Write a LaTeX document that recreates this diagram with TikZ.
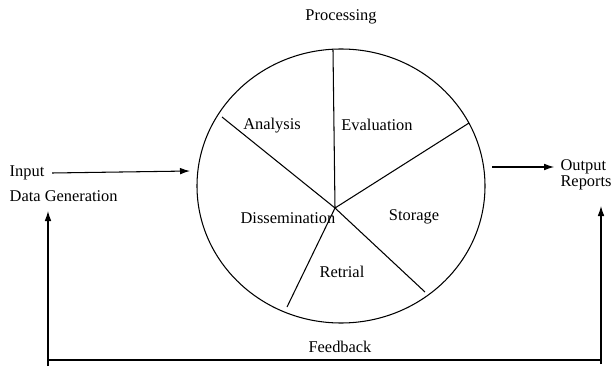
\documentclass[tikz,border=0pt]{standalone}
\usepackage{fontspec}
\setmainfont{Liberation Serif}
\usetikzlibrary{arrows.meta}
\tikzset{
  lbl/.style={font=\fontsize{14}{16}\selectfont, inner sep=1pt},
  arr/.style={line width=0.9pt, -{Latex[length=3mm,width=2mm]}},
}
\begin{document}
\begin{tikzpicture}[x=0.03cm,y=-0.03cm,line width=0.9pt]
        \useasboundingbox (0,0) rectangle (613,367);
        \node[lbl] (proc) at (341,17) {Processing};
        \draw (341,186) ellipse [x radius=144, y radius=137];
        \coordinate (hub) at (335,208);
        \coordinate (sp1) at (333,50);
        \coordinate (sp2) at (469,123);
        \coordinate (sp3) at (425,292);
        \coordinate (sp4) at (287,307);
        \coordinate (sp5) at (222,117);
        \foreach \s in {sp1,sp2,sp3,sp4,sp5}
            \draw (hub)--(\s);
        \node[lbl] (analysis) at (272,126) {Analysis};
        \node[lbl] (evaluation) at (377,125) {Evaluation};
        \node[lbl] (dissem) at (288,218) {Dissemination};
        \node[lbl] (storage) at (414,217) {Storage};
        \node[lbl] (retrial) at (342,272) {Retrial};
        \node[lbl,anchor=west] (input) at (8,173) {Input};
        \node[lbl,anchor=west] (datagen) at (8,196) {Data Generation};
        \coordinate (circin) at (190,171);
        \draw[arr] (input.east)++(6,0) -- (circin);
        \coordinate (circout) at (492,167);
        \node[lbl,anchor=west,inner sep=0pt] (output) at (560,167) {Output};
        \node[lbl,anchor=west,inner sep=0pt] (reports) at (560,183) {Reports};
        \draw[arr] (circout) -- ([xshift=-5]output.west);
        \node[lbl] (feedback) at (340,347) {Feedback};
        \coordinate (fbl) at (48,360);
        \coordinate (fbr) at (601,360);
        \draw (fbl) -- (fbr);
        \draw[arr] (48,366) -- (48,211);
        \draw[arr] (601,364) -- (601,206);
    \end{tikzpicture}
\end{document}
